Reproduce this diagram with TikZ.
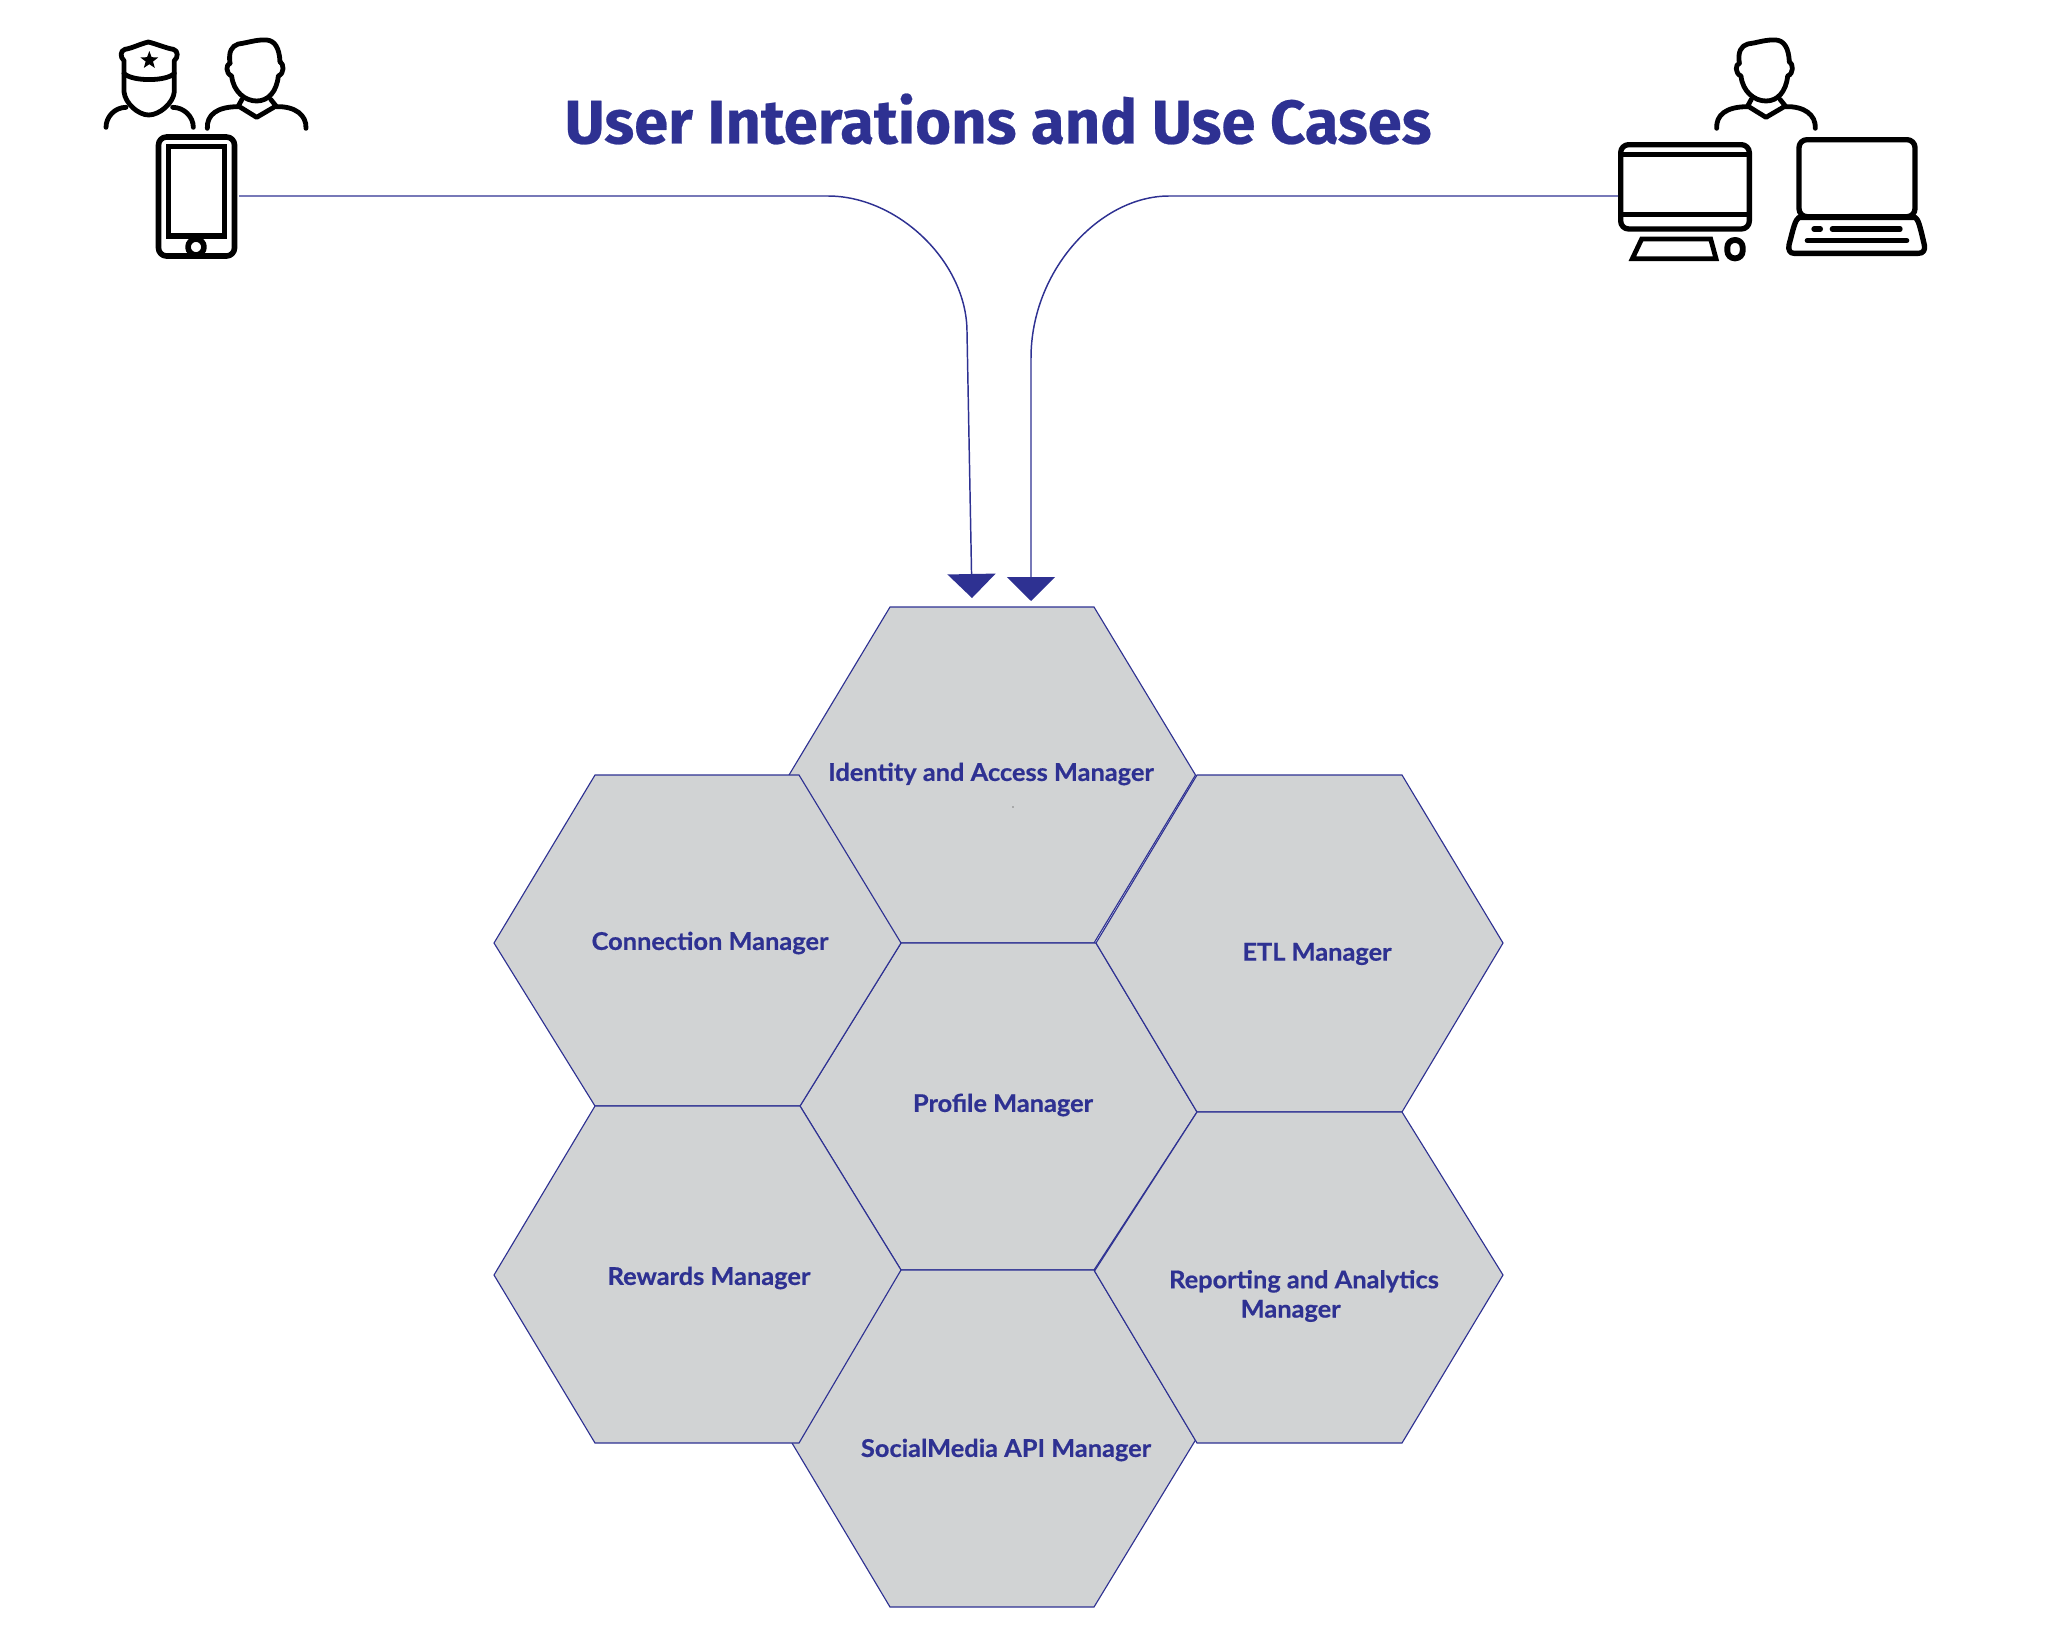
\documentclass[tikz,border=0pt]{standalone}
\usepackage{fontspec}
\setmainfont{Fira Sans}
\newfontfamily\titlefont[FakeBold=0.4]{Fira Sans}
\newfontfamily\labelfont[FakeStretch=1.04,FakeBold=0.6]{Lato}
\usetikzlibrary{arrows.meta,shapes.geometric}
\definecolor{flowblue}{HTML}{2E3192}
\definecolor{hexgray}{HTML}{D1D3D4}
\newcommand{\drawman}[2]{
	\begin{scope}[shift={(#1,#2)},scale=1/3]
		\draw[iconline] (510,130) .. controls (505,95) and (515,78) .. (535,72) .. controls (565,68) and (590,58) .. (620,60) .. controls (645,62) and (658,85) .. (660,125) ;
		\draw[iconline] (510,130) .. controls (498,132) and (496,160) .. (515,168) .. controls (520,215) and (555,243) .. (590,243) .. controls (625,243) and (650,215) .. (655,168) .. controls (674,160) and (672,132) .. (660,125) ;
		\draw[iconline] (546,238) -- (535,258) -- (590,292) -- (648,258) -- (632,238) ;
		\draw[iconline] (442,325) .. controls (440,285) and (470,260) .. (535,260) ;
		\draw[iconline] (648,260) .. controls (705,258) and (740,285) .. (738,325) ;
	\end{scope}
}
\tikzset{every picture/.style={line width=0.75pt},
	hexcell/.style={draw=flowblue,fill=hexgray,line width=0.85pt,line join=miter},
	hexlabel/.style={text=flowblue,font=\labelfont\bfseries\fontsize{18.3}{22}\selectfont,align=center,inner sep=0pt},
	flow/.style={draw=flowblue,line width=1.1pt,-{Triangle[length=18pt,width=36pt]}},
	iconline/.style={draw=black,line width=3.6pt,line cap=round,line join=round},
	deviceline/.style={iconline,line width=4pt}
}

\begin{document}
\begin{tikzpicture}[x=0.75pt,y=0.75pt,yscale=-1,xscale=1]
	\useasboundingbox (0,0) rectangle (2048,1650);

	%Shape: Hexagons
	\draw [hexcell] (890,607) -- (1094,607) -- (1195.5,775) -- (1094,943) -- (890,943) -- (789,775) -- cycle ;
	\draw [hexcell] (901,943) -- (1096,943) -- (1197,1112) -- (1094,1270) -- (901,1270) -- (800,1106) -- cycle ;
	\draw [hexcell] (890,1270) -- (1094,1270) -- (1195.5,1440) -- (1094,1607) -- (890,1607) -- (792,1443) -- cycle ;
	\draw [hexcell] (1197,775) -- (1402,775) -- (1503,943) -- (1402,1112) -- (1197,1112) -- (1096,943) -- cycle ;
	\draw [hexcell] (595,775) -- (799,775) -- (901,943) -- (800,1106) -- (595,1106) -- (494,943) -- cycle ;
	\draw [hexcell] (595,1106) -- (800,1106) -- (901,1270) -- (799,1443) -- (595,1443) -- (494,1275) -- cycle ;
	\draw [hexcell] (1197,1112) -- (1402,1112) -- (1503,1275) -- (1402,1443) -- (1197,1443) -- (1094.5,1271) -- cycle ;
	\fill [gray] (1013,807) circle (0.8) ;

	% Text Node
	\node [text=flowblue,font=\titlefont\bfseries\fontsize{46.2}{50}\selectfont,inner sep=0pt] (title) at (998,119) {User Interations and Use Cases};
	\node [hexlabel] (identity) at (991,774) {Identity and Access Manager};
	\node [hexlabel] (connection) at (710,943) {Connection Manager};
	\node [hexlabel] (etl) at (1317,954) {ETL Manager};
	\node [hexlabel] (profile) at (1003,1105) {Profile Manager};
	\node [hexlabel] (rewards) at (709,1278) {Rewards Manager};
	\node [hexlabel] (social) at (1006,1450) {SocialMedia API Manager};
	\node [hexlabel] (reporting) at (1304,1296) {Reporting and Analytics\\Manager\hspace*{20pt}};

	%Icons: officer and man
	\begin{scope}[shift={(60,20)},scale=1/3]
		\draw [iconline] (265,66) .. controls (240,72) and (215,85) .. (195,88) .. controls (180,92) and (180,112) .. (192,122) -- (192,215) .. controls (195,250) and (235,285) .. (266,285) .. controls (298,285) and (340,250) .. (343,215) -- (343,122) .. controls (355,112) and (355,92) .. (340,88) .. controls (320,85) and (290,72) .. (265,66) -- cycle ;
		\draw [iconline] (192,160) .. controls (215,185) and (320,185) .. (343,160) ;
		\draw [iconline] (138,322) .. controls (138,290) and (165,262) .. (198,262) ;
		\draw [iconline] (338,262) .. controls (372,262) and (400,290) .. (400,322) ;
		\node [star,star points=5,star point ratio=2.4,fill=black,inner sep=0pt,minimum size=14pt] (capstar) at (268,121) {};
	\end{scope}
	\drawman{60}{20}
	\drawman{1569.33}{20}

	%Icons: phone
	\draw [iconline,line width=4.2pt,rounded corners=6pt] (158.5,137) rectangle (234.5,256) ;
	\draw [iconline,line width=3.8pt,line join=miter] (168.5,146.5) rectangle (224.5,236) ;
	\draw [iconline,line width=4.2pt,fill=white] (196,247) circle (8) ;

	%Icons: monitor, mouse, laptop
	\begin{scope}[shift={(1590,20)},scale=1/3]
		\draw [deviceline,rounded corners=6pt] (92,374) rectangle (478,627) ;
		\draw [deviceline,line cap=butt] (92,403) -- (478,403) ;
		\draw [deviceline,line cap=butt] (92,583) -- (478,583) ;
		\draw [iconline,line join=miter] (155,657) -- (362,657) -- (378,716) -- (127,716) -- cycle ;
		\draw [deviceline,line width=4.4pt,rounded corners=5.5pt] (412,660) rectangle (458,715) ;
		\draw [deviceline,rounded corners=6pt] (627,359) rectangle (975,590) ;
		\draw [deviceline] (627,592) -- (975,592) .. controls (985,600) and (988,610) .. (1003,675) .. controls (1006,690) and (1000,700) .. (985,700) -- (612,700) .. controls (600,700) and (594,690) .. (597,675) .. controls (610,625) and (615,600) .. (627,592) -- cycle ;
		\draw [deviceline] (672,627) -- (691,627) ;
		\draw [deviceline] (727,627) -- (930,627) ;
		\draw [deviceline] (652,662) -- (950,662) ;
	\end{scope}

	%Straight Lines and curves
	\coordinate (phoneport) at (239,196) ;
	\coordinate (monitorport) at (1618,196) ;
	\coordinate (tipleft) at (972,598) ;
	\coordinate (tipright) at (1031,601) ;
	\draw [flow] (phoneport) -- (828,196) .. controls (898,196) and (967,262) .. (967,332) -- (tipleft) ;
	\draw [flow] (monitorport) -- (1169,196) .. controls (1100,196) and (1031,270) .. (1031,358) -- (tipright) ;
\end{tikzpicture}
\end{document}
